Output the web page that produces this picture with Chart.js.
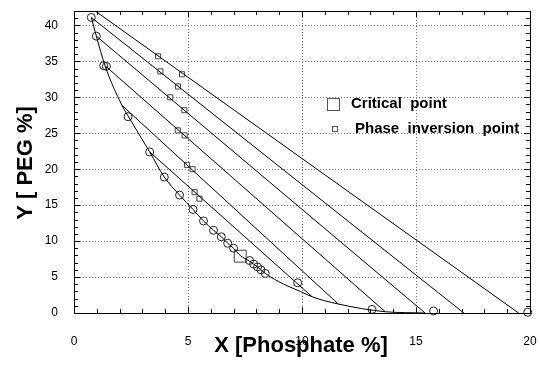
<!DOCTYPE html>
<html>
<head>
<meta charset="utf-8">
<script src="https://cdn.jsdelivr.net/npm/chart.js@4"></script>
<style>
  body { margin: 0; background: #fff; }
</style>
</head>
<body>
<canvas id="myChart" width="540" height="366"></canvas>
<script>
// binodal curve (smooth line)
var binodalX = [0.76, 0.98, 1.36, 2.1, 2.37, 3.32, 3.96, 4.63, 5.22, 5.68, 6.12, 6.46, 6.74, 7.0, 7.29, 7.7, 8.05, 8.39, 9.2, 9.93, 10.44, 11.59, 13.65, 15.4];
var binodalY = [41.1, 38.5, 34.4, 28.9, 27.4, 22.4, 18.9, 16.4, 14.4, 12.8, 11.5, 10.6, 9.7, 9.0, 8.0, 7.2, 6.4, 5.5, 4.0, 3.0, 2.26, 1.25, 0.18, 0];

// tie lines: top end -> bottom end
var tieTopX = [0.93, 0.76, 0.98, 1.36, 2.1, 3.32];
var tieTopY = [42, 41.1, 38.5, 34.4, 28.9, 22.4];
var tieBottomX = [19.5, 17.1, 15.4, 13.65, 11.59, 10.44];
var tieBottomY = [0, 0, 0, 0.18, 1.25, 2.26];

// measured points (circles)
var circleX = [0.76, 0.98, 1.30, 1.42, 2.37, 3.32, 3.96, 4.63, 5.22, 5.68, 6.12, 6.46, 6.74, 7.0, 7.7, 7.88, 8.05, 8.2, 8.39, 9.81, 13.07, 15.77, 19.9];
var circleY = [41.1, 38.5, 34.4, 34.3, 27.3, 22.4, 18.9, 16.4, 14.4, 12.8, 11.5, 10.6, 9.7, 9.0, 7.3, 6.8, 6.4, 6.0, 5.5, 4.2, 0.5, 0.28, 0.1];

// phase inversion points (small squares)
var inversionX = [3.69, 4.74, 3.79, 4.56, 4.22, 4.84, 4.55, 4.85, 4.96, 5.2, 5.29, 5.5];
var inversionY = [35.7, 33.2, 33.6, 31.5, 30.0, 28.2, 25.4, 24.7, 20.6, 20.0, 16.8, 15.9];

// critical point (big square)
var criticalX = [7.29];
var criticalY = [7.9];

var xTicks = [0, 5, 10, 15, 20];
var yTicks = [0, 5, 10, 15, 20, 25, 30, 35, 40];

var FONT = '"Liberation Sans", Arial, Helvetica, sans-serif';

function pts(xs, ys) {
  var out = [];
  for (var i = 0; i < xs.length; i++) out.push({x: xs[i], y: ys[i]});
  return out;
}

var datasets = [];
datasets.push({
  label: 'binodal',
  data: pts(binodalX, binodalY),
  showLine: true,
  borderColor: '#000',
  borderWidth: 1,
  pointRadius: 0,
  cubicInterpolationMode: 'monotone',
  fill: false
});
for (var t = 0; t < tieTopX.length; t++) {
  datasets.push({
    label: 'tie' + t,
    data: [{x: tieTopX[t], y: tieTopY[t]}, {x: tieBottomX[t], y: tieBottomY[t]}],
    showLine: true,
    borderColor: '#000',
    borderWidth: 1,
    pointRadius: 0,
    fill: false
  });
}
datasets.push({
  label: 'circles',
  data: pts(circleX, circleY),
  pointStyle: 'circle',
  pointRadius: 4,
  pointBorderWidth: 1,
  pointBorderColor: '#222',
  pointBackgroundColor: 'rgba(0,0,0,0)',
  clip: false
});
datasets.push({
  label: 'Phase inversion point',
  data: pts(inversionX, inversionY),
  pointStyle: 'rect',
  pointRadius: 3.6,
  pointBorderWidth: 1,
  pointBorderColor: '#444',
  pointBackgroundColor: '#fff',
  clip: false
});
datasets.push({
  label: 'Critical point',
  data: pts(criticalX, criticalY),
  pointStyle: 'rect',
  pointRadius: 8.4,
  pointBorderWidth: 1,
  pointBorderColor: '#444',
  pointBackgroundColor: '#fff',
  clip: false
});

// dotted grid, frame, inward ticks, titles and the legend box
var decorations = {
  id: 'decorations',
  beforeDatasetsDraw: function(chart) {
    var ctx = chart.ctx, a = chart.chartArea;
    var xs = chart.scales.x, ys = chart.scales.y;
    ctx.save();
    ctx.strokeStyle = '#777';
    ctx.lineWidth = 1;
    ctx.setLineDash([1, 2]);
    xTicks.forEach(function(v) {
      if (v <= xs.min || v >= xs.max) return;
      var px = Math.round(xs.getPixelForValue(v)) + 0.5;
      ctx.beginPath(); ctx.moveTo(px, a.top); ctx.lineTo(px, a.bottom); ctx.stroke();
    });
    yTicks.forEach(function(v) {
      if (v <= ys.min || v >= ys.max) return;
      var py = Math.round(ys.getPixelForValue(v)) + 0.5;
      ctx.beginPath(); ctx.moveTo(a.left, py); ctx.lineTo(a.right, py); ctx.stroke();
    });
    ctx.restore();
  },
  afterDatasetsDraw: function(chart) {
    var ctx = chart.ctx, a = chart.chartArea;
    var xs = chart.scales.x, ys = chart.scales.y;
    ctx.save();
    ctx.strokeStyle = '#000';
    ctx.lineWidth = 1;
    ctx.strokeRect(Math.round(a.left) + 0.5, Math.round(a.top) + 0.5,
      Math.round(a.right - a.left), Math.round(a.bottom - a.top));
    ctx.beginPath();
    for (var v = xs.min; v <= xs.max; v++) {
      var px = Math.round(xs.getPixelForValue(v)) + 0.5;
      var len = (v % 5 === 0) ? 6 : 4;
      ctx.moveTo(px, a.bottom); ctx.lineTo(px, a.bottom - len);
      ctx.moveTo(px, a.top); ctx.lineTo(px, a.top + len);
    }
    for (var w = ys.min; w <= ys.max; w++) {
      var py = Math.round(ys.getPixelForValue(w)) + 0.5;
      var len2 = (w % 5 === 0) ? 6 : 4;
      ctx.moveTo(a.left, py); ctx.lineTo(a.left + len2, py);
      ctx.moveTo(a.right, py); ctx.lineTo(a.right - len2, py);
    }
    ctx.stroke();
    ctx.restore();
  },
  afterDraw: function(chart) {
    var ctx = chart.ctx;
    ctx.save();
    ctx.fillStyle = '#000';
    // axis titles
    ctx.font = 'bold 22px ' + FONT;
    ctx.textAlign = 'center';
    ctx.textBaseline = 'alphabetic';
    ctx.fillText('X [Phosphate %]', 301, 352);
    ctx.translate(32, 163);
    ctx.rotate(-Math.PI / 2);
    ctx.fillText('Y [ PEG %]', 0, 0);
    ctx.restore();

    // legend
    ctx.save();
    ctx.strokeStyle = '#555';
    ctx.lineWidth = 1;
    ctx.strokeRect(327.5, 98.5, 12, 12);
    ctx.strokeRect(332.5, 126.5, 5, 5);
    ctx.fillStyle = '#000';
    ctx.font = 'bold 15px ' + FONT;
    ctx.textAlign = 'left';
    ctx.textBaseline = 'middle';
    ctx.fillText('Critical  point', 351, 104);
    ctx.fillText('Phase  inversion  point', 355, 129);
    ctx.restore();
  }
};

var ctx = document.getElementById('myChart').getContext('2d');
var chart = new Chart(ctx, {
  type: 'scatter',
  data: { datasets: datasets },
  options: {
    responsive: false,
    animation: false,
    layout: { padding: { left: 0, right: 10, top: 11, bottom: 0 } },
    plugins: {
      legend: { display: false },
      tooltip: { enabled: false }
    },
    scales: {
      x: {
        type: 'linear',
        min: 0,
        max: 20,
        afterBuildTicks: function(scale) {
          scale.ticks = xTicks.map(function(v) { return {value: v}; });
        },
        afterFit: function(scale) {
          scale.height = 53;
          scale.paddingLeft = 0;
          scale.paddingRight = 0;
        },
        grid: { display: false, drawTicks: false },
        border: { display: false },
        ticks: {
          padding: 21,
          color: '#000',
          font: { family: FONT, size: 12 },
          maxRotation: 0
        }
      },
      y: {
        type: 'linear',
        min: 0,
        max: 42,
        afterBuildTicks: function(scale) {
          scale.ticks = yTicks.map(function(v) { return {value: v}; });
        },
        afterFit: function(scale) {
          scale.width = 74;
          scale.paddingTop = 0;
          scale.paddingBottom = 0;
        },
        grid: { display: false, drawTicks: false },
        border: { display: false },
        ticks: {
          padding: 16,
          color: '#000',
          font: { family: FONT, size: 12 }
        }
      }
    }
  },
  plugins: [decorations]
});
</script>
</body>
</html>
